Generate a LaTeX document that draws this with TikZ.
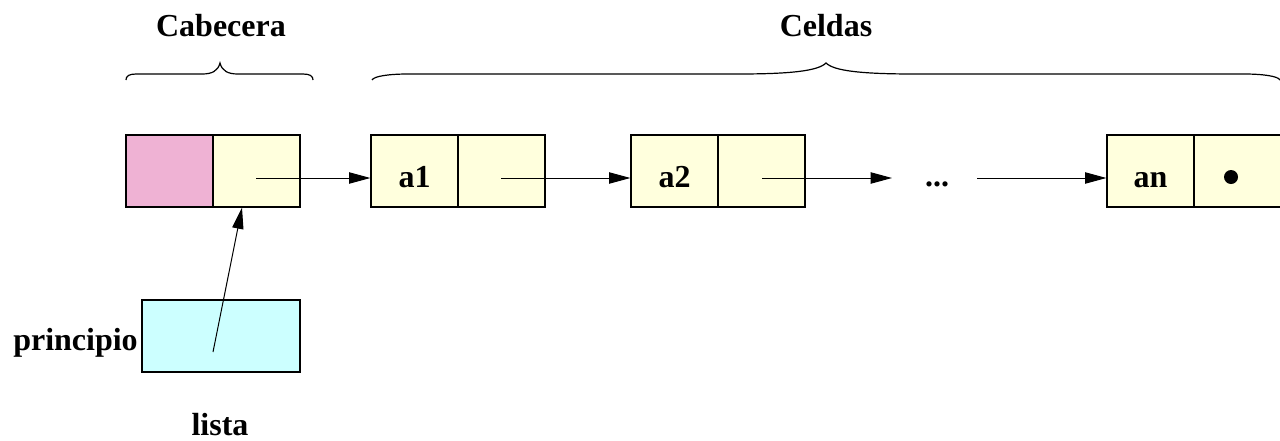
\documentclass[tikz,border=0pt]{standalone}
\usepackage{fontspec}
\setmainfont{Liberation Serif}
\usetikzlibrary{arrows.meta}
\definecolor{cpink}{RGB}{239,178,212}
\definecolor{cyel}{RGB}{255,255,221}
\definecolor{ccyan}{RGB}{204,255,255}
\tikzset{
  half/.style={draw=black, line width=0.9pt, rectangle, inner sep=0pt,
    minimum width=65.25pt, minimum height=54pt, fill=cyel},
  lbl/.style={font=\fontsize{24}{28}\selectfont\bfseries, inner sep=0pt},
  ptr/.style={line width=0.75pt, -{Triangle[length=16pt, width=8.5pt]}},
  brc/.style={line width=0.9pt}
}
\begin{document}
\begin{tikzpicture}[x=0.75pt, y=-0.75pt]
\useasboundingbox (0,0) rectangle (1280,440);
% braces
\draw[brc] (126,80) .. controls (126,76) and (129,74) .. (136,74) -- (202,74)
  .. controls (212,74) and (218,71) .. (220,63)
  .. controls (222,71) and (228,74) .. (238,74) -- (303,74)
  .. controls (310,74) and (313,76) .. (313,80);
\draw[brc] (372,80) .. controls (374,76) and (390,74) .. (408,74) -- (738,74)
  .. controls (790,74) and (818,71) .. (826,63)
  .. controls (834,71) and (862,74) .. (915,74) -- (1244,74)
  .. controls (1262,74) and (1278,76) .. (1280,80);
\node[lbl, anchor=base] (tcab) at (221,36) {Cabecera};
\node[lbl, anchor=base] (tcel) at (826,36) {Celdas};
% header
\node[half, fill=cpink] (h1) at (169.5,171) {};
\node[half] (h2) at (256.5,171) {};
% cells
\node[half] (c1a) at (414.5,171) {};
\node[half] (c1b) at (501.5,171) {};
\node[half] (c2a) at (674.5,171) {};
\node[half] (c2b) at (761.5,171) {};
\node[half] (cna) at (1150.5,171) {};
\node[half] (cnb) at (1237.5,171) {};
\node[lbl, anchor=base] (ta1) at (414.5,187) {a1};
\node[lbl, anchor=base] (ta2) at (674.5,187) {a2};
\node[lbl, anchor=base] (tan) at (1150.5,187) {an};
\node[lbl, anchor=base] (dots) at (937,186) {...};
\fill (1231,177) circle[radius=5.25pt];
% pointers
\coordinate (s0) at (256,178);
\coordinate (s1) at (501,178);
\coordinate (s2) at (762,178);
\coordinate (e2) at (892,178);
\coordinate (s3) at (977,178);
\draw[ptr] (s0) -- (s0 -| c1a.west);
\draw[ptr] (s1) -- (s1 -| c2a.west);
\draw[ptr] (s2) -- (e2);
\draw[ptr] (s3) -- (s3 -| cna.west);
% lista
\node[half, fill=ccyan, minimum width=118.5pt] (L) at (221,336) {};
\node[lbl, anchor=base east] (tpri) at (138,350) {principio};
\node[lbl, anchor=base] (tlis) at (220,435) {lista};
\coordinate (ls) at (213,352);
\coordinate (le) at (242,207.5);
\draw[ptr] (ls) -- (le);
\end{tikzpicture}
\end{document}
